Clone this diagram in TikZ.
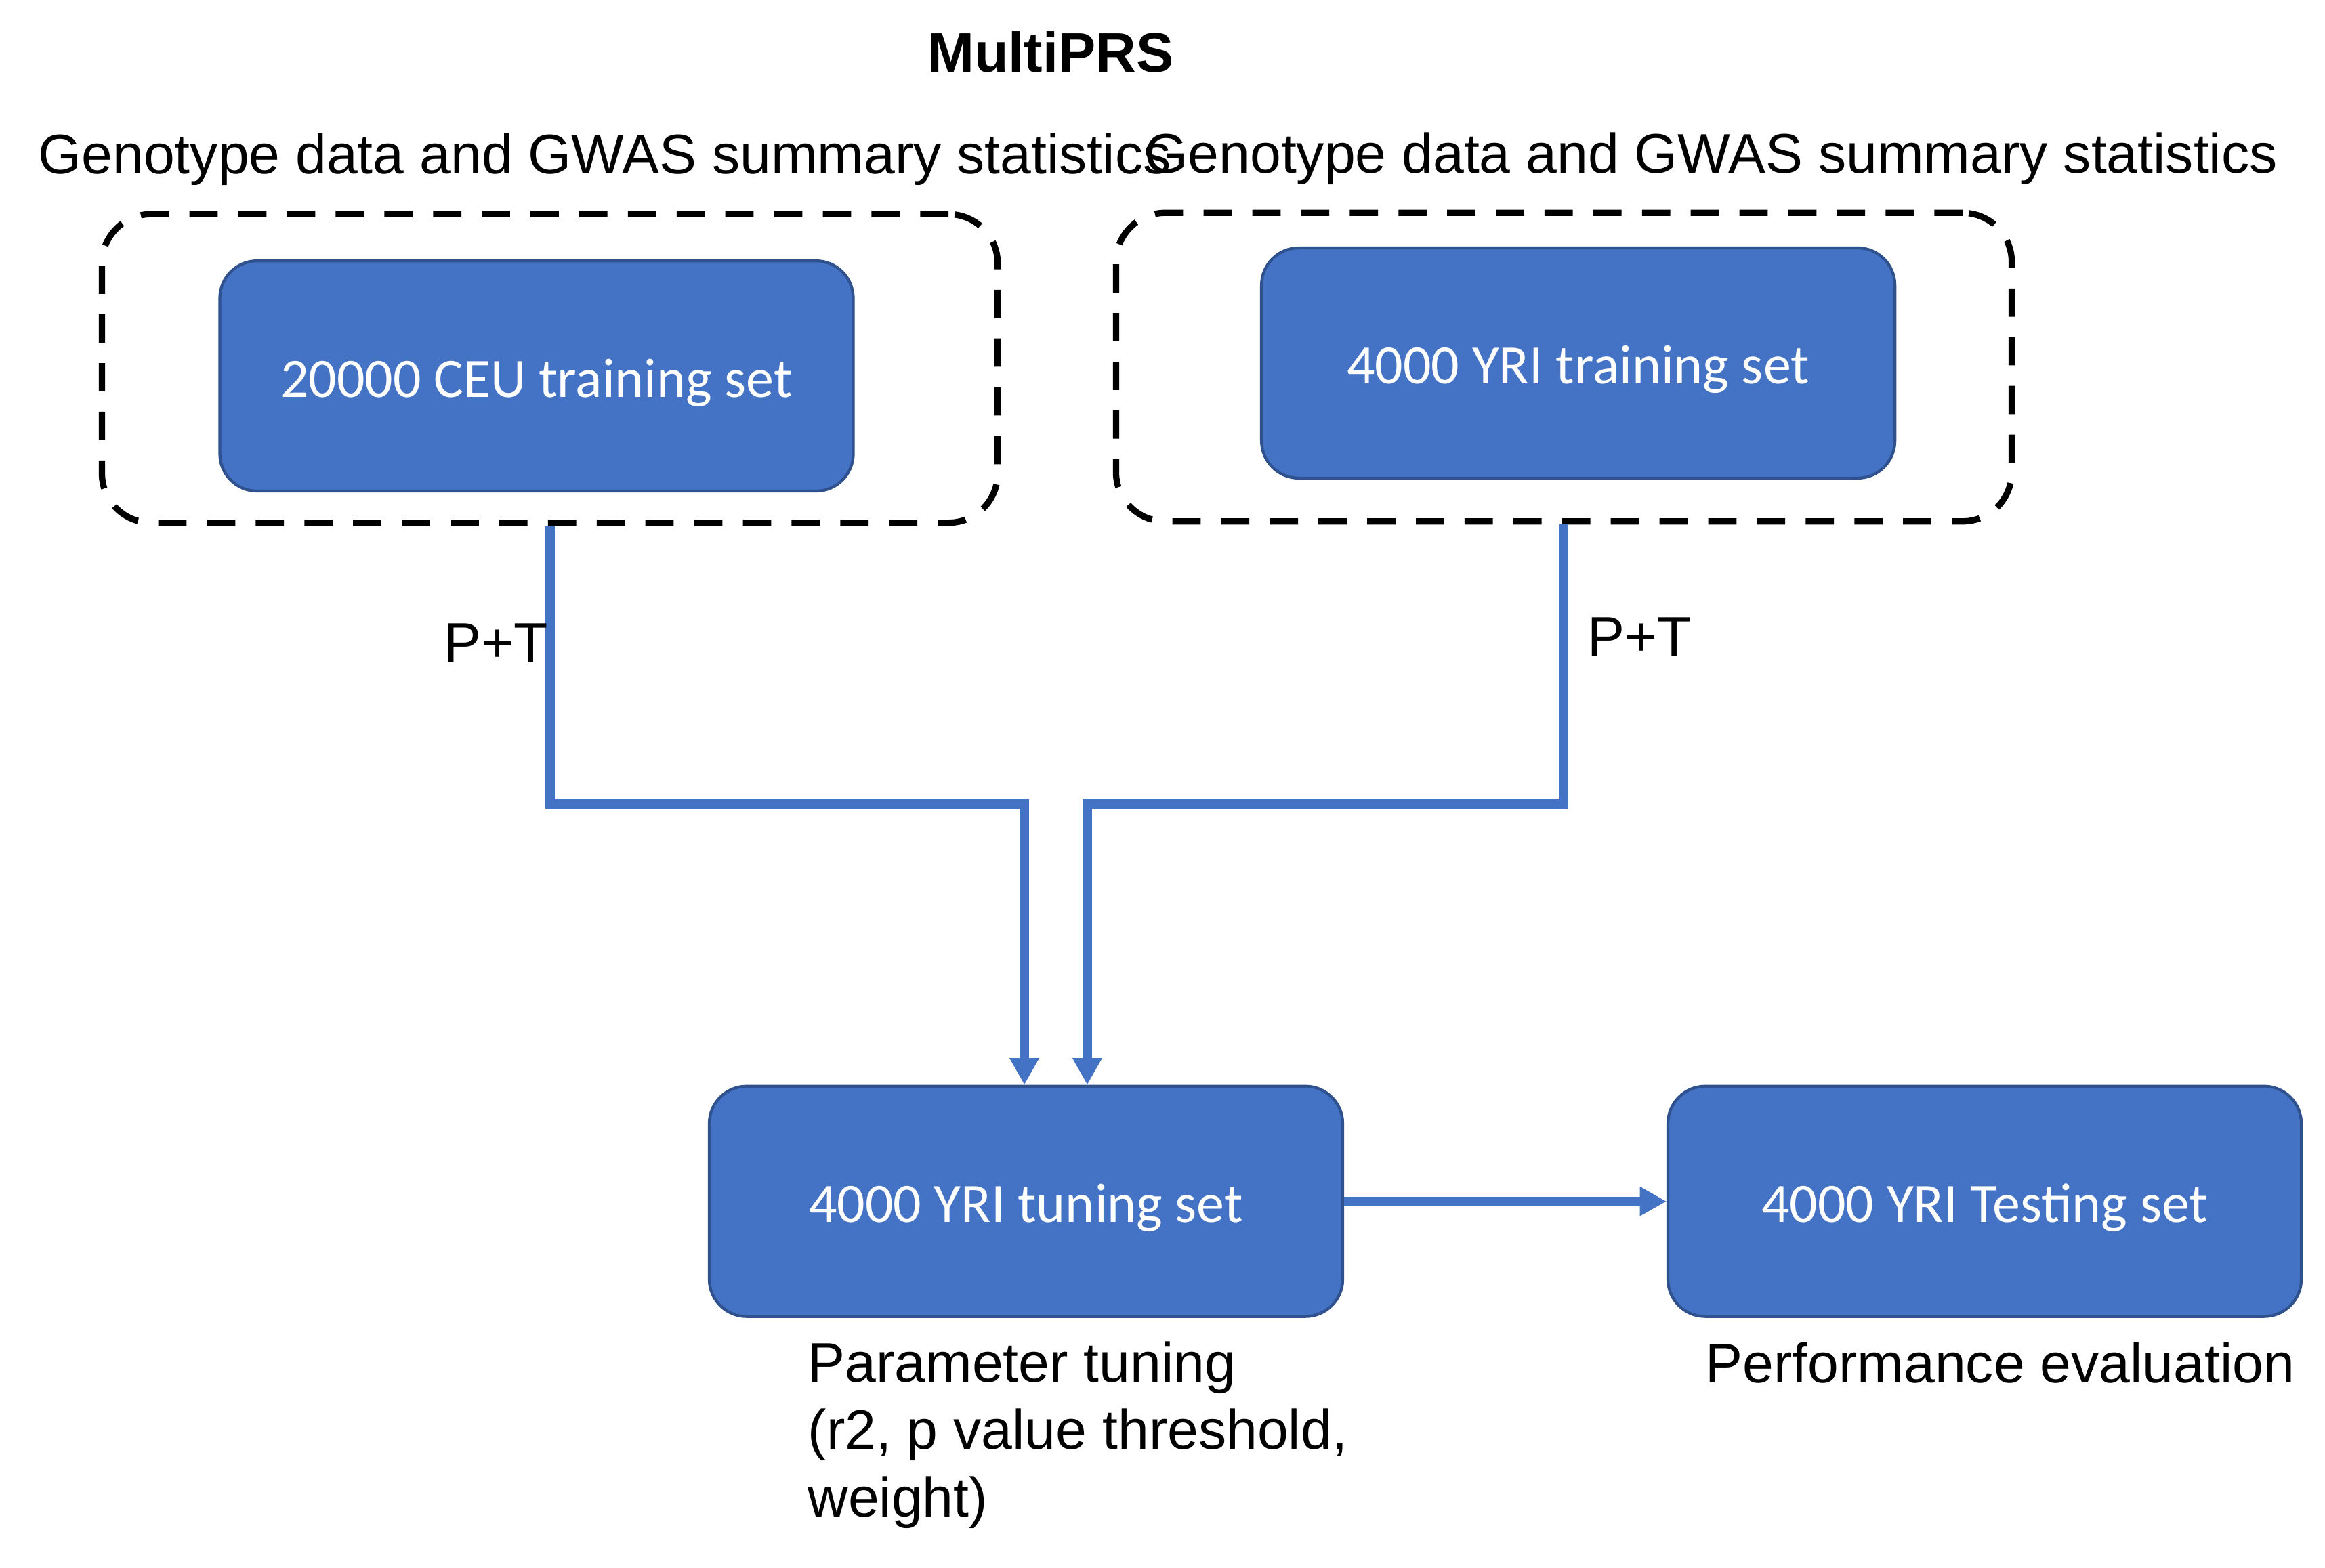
\documentclass[tikz,border=0pt]{standalone}
\usepackage{fontspec}
\setmainfont{Liberation Sans}
\newfontfamily\carlito{Carlito}
\usetikzlibrary{arrows.meta}
\definecolor{officeblue}{HTML}{4472C4}
\definecolor{boxedge}{HTML}{2F528F}

\begin{document}
\begin{tikzpicture}[
        every node/.style={font=\fontsize{10.65}{12.9}\selectfont},
        setbox/.style={draw=boxedge, line width=0.55pt, fill=officeblue, rounded corners=0.25cm,
            minimum width=4.25cm, minimum height=1.545cm, inner sep=0pt,
            text height=0.8em, text depth=0pt,
            text=white, font=\carlito\fontsize{10.6}{12.7}\selectfont},
        groupbox/.style={draw, line width=1.2pt, dash pattern=on 5.4pt off 3.9pt, rounded corners=0.33cm,
            minimum width=6.01cm, minimum height=2.07cm, inner sep=0pt},
        label/.style={anchor=base west, inner sep=0pt},
        flow/.style={draw=officeblue, line width=1.8pt, -{Triangle[width=5.3pt, length=5.1pt]}}
    ]
        \useasboundingbox (0, 0) rectangle (15.6, -10.518);

        \node (title) at (7.05, -0.486) [anchor=base, inner sep=0pt, font=\bfseries\fontsize{10.7}{12.9}\selectfont] {MultiPRS};
        \node (datal) at (0.25, -1.168) [label] {Genotype data and GWAS summary statistics};
        \node (datar) at (7.673, -1.16) [label] {Genotype data and GWAS summary statistics};

        \node (groupl) at (3.689, -2.4725) [groupbox] {};
        \node (groupr) at (10.493, -2.4635) [groupbox] {};
        \node (ceu) at (3.6, -2.523) [setbox] {20000 CEU training set};
        \node (yri) at (10.589, -2.436) [setbox] {4000 YRI training set};
        \node (tune) at (6.884, -8.062) [setbox] {4000 YRI tuning set};
        \node (test) at (13.316, -8.062) [setbox] {4000 YRI Testing set};

        \coordinate (bendl) at (6.873, -5.395);
        \coordinate (bendr) at (7.295, -5.395);
        \draw[flow] (groupl.south) |- (bendl) -- (bendl |- tune.north);
        \draw[flow] (groupr.south) |- (bendr) -- (bendr |- tune.north);
        \draw[flow] (tune.east) -- (test.west);

        \node (ptl) at (2.973, -4.445) [label] {P+T};
        \node (ptr) at (10.645, -4.4) [label] {P+T};

        \node (tunetext) at (5.414, -10.18) [label, align=left] {Parameter tuning\\(r2, p value threshold,\\weight)};
        \node (testtext) at (11.436, -9.28) [label] {Performance evaluation};
\end{tikzpicture}
\end{document}
